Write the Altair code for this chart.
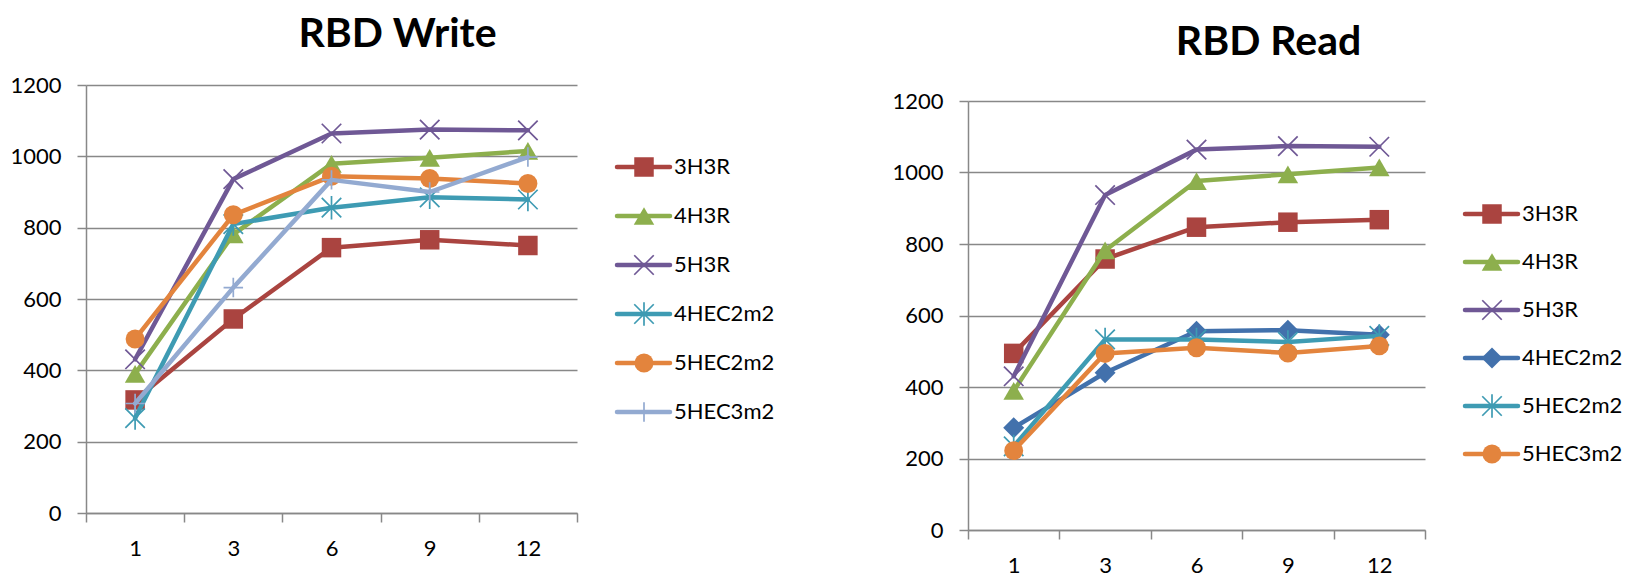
import altair as alt
import pandas as pd

categories = ["1", "3", "6", "9", "12"]

write_series = ["3H3R", "4H3R", "5H3R", "4HEC2m2", "5HEC2m2", "5HEC3m2"]
write_3H3R = [317, 544, 744, 766, 750]
write_4H3R = [390, 781, 979, 996, 1015]
write_5H3R = [431, 936, 1064, 1075, 1073]
write_4HEC2m2 = [266, 810, 856, 885, 879]
write_5HEC2m2 = [488, 836, 944, 938, 924]
write_5HEC3m2 = [307, 632, 934, 900, 998]

read_series = ["3H3R", "4H3R", "5H3R", "4HEC2m2", "5HEC2m2", "5HEC3m2"]
read_3H3R = [494, 758, 847, 861, 868]
read_4H3R = [389, 782, 976, 995, 1014]
read_5H3R = [430, 937, 1064, 1074, 1072]
read_4HEC2m2 = [286, 440, 556, 559, 546]
read_5HEC2m2 = [234, 533, 533, 526, 543]
read_5HEC3m2 = [222, 494, 510, 495, 515]

y_ticks = [0, 200, 400, 600, 800, 1000, 1200]

RED = "#AA4440"
GREEN = "#8DAF4D"
PURPLE = "#6F5895"
TEAL = "#3E9BB3"
ORANGE = "#E3843D"
BLUE = "#4271AC"
LBLUE = "#93AAD1"
X_PATH = "M-1,-1L1,1M-1,1L1,-1"
STAR_PATH = "M-1,-1L1,1M-1,1L1,-1M0,-1.2L0,1.2"
PLUS_PATH = "M-1,0L1,0M0,-1L0,1"

write_styles = [
    (RED, "square", True, 380),
    (GREEN, "triangle-up", True, 420),
    (PURPLE, X_PATH, False, 380),
    (TEAL, STAR_PATH, False, 380),
    (ORANGE, "circle", True, 360),
    (LBLUE, PLUS_PATH, False, 380),
]
read_styles = [
    (RED, "square", True, 380),
    (GREEN, "triangle-up", True, 420),
    (PURPLE, X_PATH, False, 380),
    (BLUE, "diamond", True, 440),
    (TEAL, STAR_PATH, False, 380),
    (ORANGE, "circle", True, 360),
]

GRID = "#888888"
FONT = "Lato"


def panel(title_text, series, values, styles, width, height, yrange, t_offset, t_dx):
    yscale = alt.Scale(domain=[0, 1200], range=yrange) if yrange else alt.Scale(domain=[0, 1200])
    x_enc = alt.X(
        "cat:N", sort=categories, title=None,
        scale=alt.Scale(type="band", domain=categories, paddingInner=0, paddingOuter=0),
        axis=alt.Axis(labelAngle=0, tickBand="extent", tickSize=9, tickColor=GRID, tickWidth=1.5,
                      domainColor=GRID, domainWidth=1.5, grid=False, labelFont=FONT,
                      labelFontSize=22, labelColor="black", labelPadding=16),
    )
    y_enc = alt.Y(
        "value:Q", title=None, scale=yscale,
        axis=alt.Axis(values=y_ticks, format="d", tickSize=9, tickColor=GRID, tickWidth=1.5,
                      domainColor=GRID, domainWidth=1.5, grid=True, gridColor=GRID, gridWidth=1.5,
                      labelFont=FONT, labelFontSize=22, labelColor="black", labelPadding=16),
    )
    layers = []
    for name, vals, (color, shape, filled, size) in zip(series, values, styles):
        df = pd.DataFrame({"cat": categories, "value": vals, "series": name})
        base = alt.Chart(df).encode(x=x_enc, y=y_enc)
        layers.append(base.mark_line(color=color, strokeWidth=4.5, strokeCap="round", strokeJoin="round"))
        layers.append(base.mark_point(shape=shape, filled=filled, size=size, color=color,
                                      opacity=1, strokeWidth=1.7))
    return alt.layer(*layers).properties(
        width=width, height=height,
        title=alt.TitleParams(text=title_text, font=FONT, fontSize=41, fontWeight="bold",
                              color="black", anchor="middle", frame="group",
                              offset=t_offset, dx=t_dx),
    )


def legend(series, styles, yrange, width):
    layers = []
    for name, (color, shape, filled, size) in zip(series, styles):
        df = pd.DataFrame({"series": [name]})
        y_enc = alt.Y("series:N", sort=series, axis=None, title=None,
                      scale=alt.Scale(type="point", domain=series, range=yrange, padding=0))
        base = alt.Chart(df).encode(y=y_enc)
        layers.append(base.mark_rule(color=color, strokeWidth=4.5, strokeCap="round")
                      .encode(x=alt.value(0), x2=alt.value(53)))
        layers.append(base.mark_point(shape=shape, filled=filled, size=size, color=color,
                                      opacity=1, strokeWidth=1.7).encode(x=alt.value(27)))
        layers.append(base.mark_text(align="left", baseline="middle", font=FONT, fontSize=22,
                                     color="black").encode(x=alt.value(57), text="series:N"))
    return alt.layer(*layers).properties(width=width, height=428)


write_values = [write_3H3R, write_4H3R, write_5H3R, write_4HEC2m2, write_5HEC2m2, write_5HEC3m2]
read_values = [read_3H3R, read_4H3R, read_5H3R, read_4HEC2m2, read_5HEC2m2, read_5HEC3m2]

left = panel("RBD Write", write_series, write_values, write_styles, 491, 428, None, 18, 66)
left_leg = legend(write_series, write_styles, [82, 327], 311)
right = panel("RBD Read", read_series, read_values, read_styles, 457, 445, [445, 16], 21, 72)
right_leg = legend(read_series, read_styles, [129, 369], 160)

chart = alt.hconcat(left, left_leg, right, right_leg, spacing=40, bounds="flush").resolve_scale(
    x="independent", y="independent"
).configure_view(stroke=None).properties(
    padding={"left": 1, "top": 6, "right": 0, "bottom": 0}
)

chart.save("out.html", embed_options={"renderer": "svg", "actions": False})
